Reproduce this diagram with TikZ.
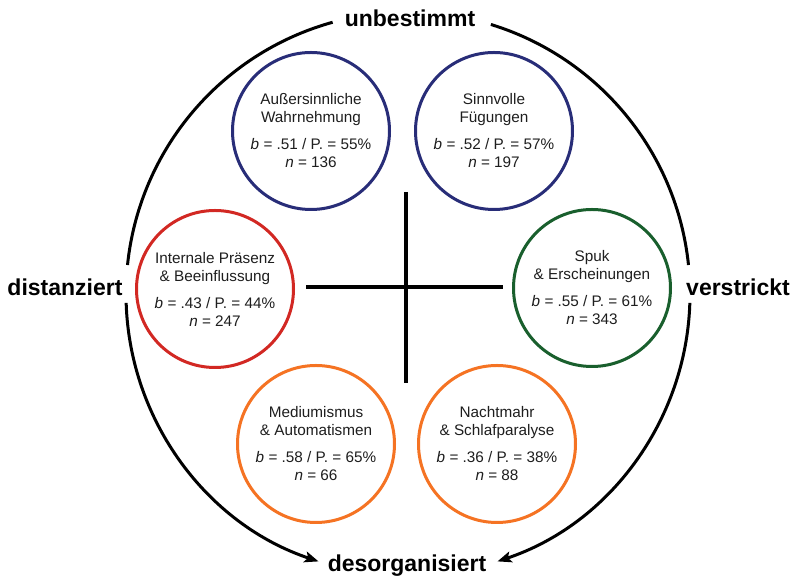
\documentclass[tikz,border=0pt]{standalone}
\usepackage{fontspec}
\setmainfont{Liberation Sans}
\usetikzlibrary{arrows.meta}
\definecolor{cblue}{RGB}{40,45,120}
\definecolor{cred}{RGB}{210,40,35}
\definecolor{cgreen}{RGB}{25,95,45}
\definecolor{corange}{RGB}{245,115,35}
\definecolor{ctext}{RGB}{30,30,30}
\tikzset{
  typ/.style={circle, line width=3pt, minimum size=157pt, inner sep=0pt, align=center,
    text=ctext, font=\fontsize{15.3}{18}\selectfont},
  pole/.style={font=\fontsize{23}{26}\selectfont\bfseries, text=black, inner sep=1pt},
  axis/.style={line width=3.2pt, black},
  rim/.style={line width=3pt, black},
  rimarrow/.style={rim, -{Stealth[length=14pt,width=11pt,inset=3pt]}}
}
\begin{document}
\begin{tikzpicture}[x=1pt,y=1pt]
\useasboundingbox (0,0) rectangle (796,580);
\fill[white] (0,0) rectangle (796,580);
\coordinate (O) at (408,286);
% axis cross
\coordinate (vt) at (406,388);
\coordinate (vb) at (406,197);
\coordinate (hl) at (306,293);
\coordinate (hr) at (503,293);
\draw[axis] (vt) -- (vb);
\draw[axis] (hl) -- (hr);
% poles
\node[pole] (up) at (410,562) {unbestimmt};
\node[pole] (lf) at (65,293) {distanziert};
\node[pole] (rt) at (738,293) {verstrickt};
\node[pole] (dn) at (407,14) {desorganisiert};
% rim arcs
\draw[rim] (O) ++(105.5:282) arc[start angle=105.5, end angle=174.1, radius=282];
\draw[rim] (O) ++(72.9:282) arc[start angle=72.9, end angle=5.9, radius=282];
\draw[rimarrow] (O) ++(181.8:282) arc[start angle=181.8, end angle=251.5, radius=282];
\draw[rimarrow] (O) ++(-1.8:282) arc[start angle=-1.8, end angle=-71.5, radius=282];
% types
\node[typ, draw=cblue] (asw) at (311,449) {Außersinnliche\\Wahrnehmung\\[9pt]\textit{b} = .51 / P. = 55\%\\\textit{n} = 136};
\node[typ, draw=cblue] (sf) at (494,449) {Sinnvolle\\Fügungen\\[9pt]\textit{b} = .52 / P. = 57\%\\\textit{n} = 197};
\node[typ, draw=cred] (ipb) at (215,291) {Internale Präsenz\\\& Beeinflussung\\[9pt]\textit{b} = .43 / P. = 44\%\\\textit{n} = 247};
\node[typ, draw=cgreen] (spuk) at (592,292) {Spuk\\\& Erscheinungen\\[9pt]\textit{b} = .55 / P. = 61\%\\\textit{n} = 343};
\node[typ, draw=corange] (med) at (316,136) {Mediumismus\\\& Automatismen\\[9pt]\textit{b} = .58 / P. = 65\%\\\textit{n} = 66};
\node[typ, draw=corange] (nm) at (497,136) {Nachtmahr\\\& Schlafparalyse\\[9pt]\textit{b} = .36 / P. = 38\%\\\textit{n} = 88};
\end{tikzpicture}
\end{document}
